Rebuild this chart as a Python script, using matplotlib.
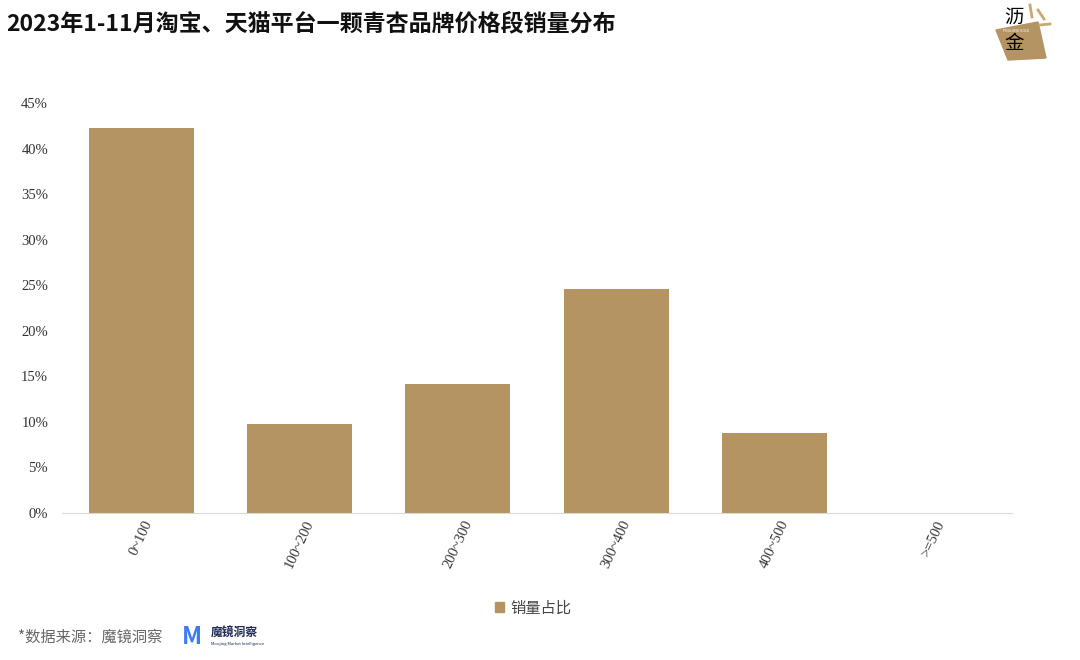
import numpy as np
import matplotlib.pyplot as plt
from matplotlib.patches import Polygon, Patch

plt.rcParams['font.family'] = ['Noto Sans CJK SC', 'DejaVu Sans']

categories = ['0~100', '100~200', '200~300', '300~400', '400~500', '>=500']
share = [0.4226, 0.0977, 0.1416, 0.2459, 0.0878, 0.0]
bar_color = '#b59463'

fig = plt.figure(figsize=(10.8, 6.6), dpi=100)
ax = fig.add_axes([62/1080, 1-513/660, 950/1080, 410/660])

x = np.arange(len(categories))
ax.bar(x, share, width=0.665, color=bar_color)
ax.set_xlim(-0.5, len(categories)-0.5)
ax.set_ylim(0, 0.45)
ax.set_yticks(np.arange(0, 0.451, 0.05))
ax.set_yticklabels([f'{int(round(v*100))}%' for v in np.arange(0, 0.451, 0.05)],
                   family=['Liberation Serif', 'DejaVu Serif'], fontsize=10.5, color='#333333')
ax.set_xticks(x)
ax.set_xticklabels(categories, rotation=65, family=['Liberation Serif', 'DejaVu Serif'],
                   fontsize=10.5, color='#333333', ha='center', va='top')
ax.tick_params(axis='both', length=0, pad=4)
ax.tick_params(axis='y', pad=10)
for s in ['top', 'right', 'left']:
    ax.spines[s].set_visible(False)
ax.spines['bottom'].set_color('#d9d9d9')

fig.text(6/1080, 1-24/660, '2023年1-11月淘宝、天猫平台一颗青杏品牌价格段销量分布',
         fontsize=16.6, fontweight='bold', va='center', ha='left', color='#111111')

fig.legend(handles=[Patch(color=bar_color)], labels=['销量占比'], loc='center',
           bbox_to_anchor=(533/1080, 1-608/660), frameon=False, fontsize=11,
           handlelength=0.6, handleheight=0.6, handletextpad=0.4, labelcolor='#444444')

fig.text(18/1080, 1-637/660, '*数据来源：魔镜洞察', fontsize=11, color='#666666',
         va='center', ha='left')
fig.text(182/1080, 1-637/660, 'M', fontsize=17, fontweight='bold', color='#3d7bf5',
         va='center', ha='left')
fig.text(211/1080, 1-633/660, '魔镜洞察', fontsize=8.5, fontweight='bold', color='#1f2a55',
         va='center', ha='left')
fig.text(211/1080, 1-644/660, 'Moojing Market Intelligence', fontsize=3, color='#1f2a55',
         va='center', ha='left')

# logo top right
pts = [(996, 30), (1038, 22), (1046, 58), (1008, 60)]
fig.patches.append(Polygon([(px/1080, 1-py/660) for px, py in pts], closed=True,
                           transform=fig.transFigure, color='#b59463', zorder=1))
for (x0, y0, x1, y1) in [(1030, 5, 1032, 17), (1038, 10, 1044, 19), (1040, 25, 1050, 24)]:
    fig.lines.append(plt.Line2D([x0/1080, x1/1080], [1-y0/660, 1-y1/660],
                                transform=fig.transFigure, color='#c9a970', lw=2))
fig.text(1014/1080, 1-17/660, '沥', fontsize=14, color='black', ha='center', va='center', zorder=3)
fig.text(1014/1080, 1-44/660, '金', fontsize=14, color='black', ha='center', va='center', zorder=3)
fig.text(1016/1080, 1-31/660, 'PINGJING GOLD', fontsize=2.5, color='white', ha='center',
         va='center', zorder=3)

fig.savefig('out.png', dpi=100)
